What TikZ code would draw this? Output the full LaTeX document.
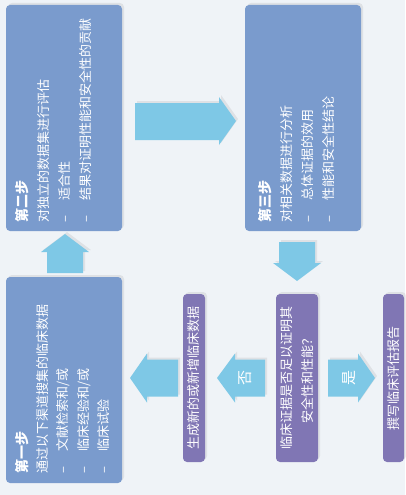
\documentclass[tikz,border=0pt]{standalone}
\usepackage{fontspec}
\newfontfamily\cjk{Noto Sans CJK SC}
\usetikzlibrary{shadows}
\definecolor{bgcol}{RGB}{239,243,247}
\definecolor{stepblue}{RGB}{122,155,205}
\definecolor{decpurple}{RGB}{128,118,180}
\definecolor{arrowblue}{RGB}{126,200,230}
\tikzset{
  softshadow/.style={drop shadow={opacity=0.12, shadow xshift=2pt, shadow yshift=2pt, fill=black!60}},
  stepbox/.style={fill=stepblue, rounded corners=4pt, draw=none, inner sep=0pt, softshadow},
  purplebox/.style={fill=decpurple, rounded corners=4pt, draw=none, inner sep=0pt, softshadow},
  bigarrow/.style={fill=arrowblue, draw=none, softshadow},
  vtext/.style={rotate=90, text=white, inner sep=0pt, font=\cjk\fontsize{13}{21}\selectfont},
  arrowlabel/.style={rotate=90, text=white, inner sep=0pt, font=\cjk\fontsize{15}{18}\selectfont}
}
\newcommand{\itemdash}{–\hspace{1.2em}}
\begin{document}
\begin{tikzpicture}[x=1pt,y=-1pt]
\fill[bgcol] (0,0) rectangle (405,495);
\useasboundingbox (0,0) rectangle (405,495);

% boxes
\node[stepbox, minimum width=116pt, minimum height=226pt] (s2) at (64,118) {};
\node[stepbox, minimum width=116pt, minimum height=226pt] (s3) at (303,118) {};
\node[stepbox, minimum width=116pt, minimum height=206pt] (s1) at (64,380) {};
\node[purplebox, minimum width=22pt, minimum height=168pt] (newdata) at (194,378) {};
\node[purplebox, minimum width=42pt, minimum height=168pt] (decision) at (297,378) {};
\node[purplebox, minimum width=21pt, minimum height=168pt] (report) at (393.5,378) {};

% arrows
\fill[bigarrow] (47,273) -- (47,252) -- (41,252) -- (65,234) -- (89,252) -- (83,252) -- (83,273) -- cycle;
\fill[bigarrow] (135,103) -- (219,103) -- (219,97) -- (236,121) -- (219,145) -- (219,140) -- (135,140) -- cycle;
\fill[bigarrow] (279,242) -- (315,242) -- (315,263) -- (321,263) -- (297,281) -- (273,263) -- (279,263) -- cycle;
\fill[bigarrow] (265,359.5) -- (235,359.5) -- (235,353.5) -- (217,378) -- (235,402.5) -- (235,396.5) -- (265,396.5) -- cycle;
\fill[bigarrow] (328,359.5) -- (358,359.5) -- (358,353.5) -- (375,378) -- (358,402.5) -- (358,396.5) -- (328,396.5) -- cycle;
\fill[bigarrow] (178,359.5) -- (147,359.5) -- (147,353.5) -- (130,378) -- (147,402.5) -- (147,396.5) -- (178,396.5) -- cycle;

\node[arrowlabel] (no) at (245,378) {否};
\node[arrowlabel] (yes) at (349,378) {是};

% texts
\node[vtext, anchor=north west, align=left] (t2) at (15,223)
  {{\bfseries\fontsize{14}{21}\selectfont 第二步}\\
   对独立的数据集进行评估\\
   \itemdash 适合性\\
   \itemdash 结果对证明性能和安全性的贡献};
\node[vtext, anchor=north west, align=left] (t3) at (258,223)
  {{\bfseries\fontsize{14}{21}\selectfont 第三步}\\
   对相关数据进行分析\\
   \itemdash 总体证据的效用\\
   \itemdash 性能和安全性结论};
\node[vtext, anchor=north west, align=left, font=\cjk\fontsize{13}{20.3}\selectfont] (t1) at (15,474)
  {{\bfseries\fontsize{14}{20.3}\selectfont 第一步}\\
   通过以下渠道搜集的临床数据\\
   \itemdash 文献检索和/或\\
   \itemdash 临床经验和/或\\
   \itemdash 临床试验};
\node[vtext, align=center] (tdec) at (decision.center)
  {临床证据是否足以证明其\\安全性和性能？};
\node[vtext] (tnew) at (newdata.center) {生成新的或新增临床数据};
\node[vtext] (trep) at (report.center) {撰写临床评估报告};
\end{tikzpicture}
\end{document}
